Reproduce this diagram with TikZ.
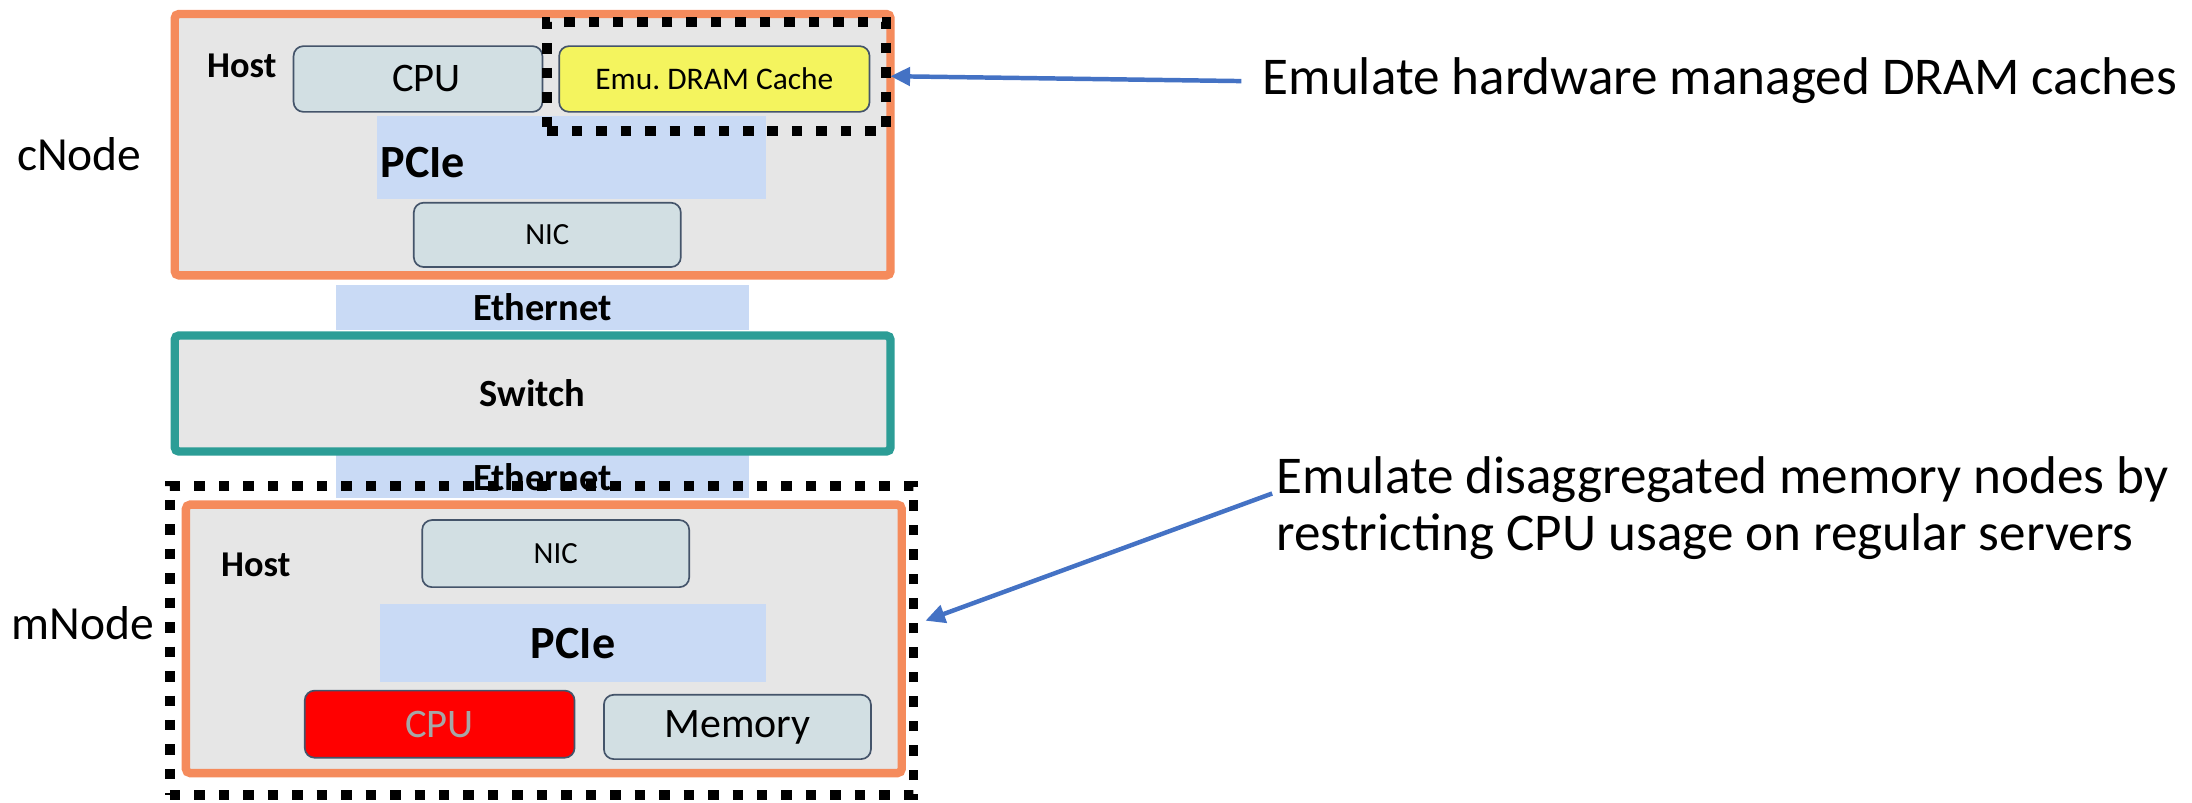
\documentclass[tikz,border=0pt]{standalone}
\usepackage{fontspec}
\setmainfont{Carlito}
\usetikzlibrary{arrows.meta}

\definecolor{frameor}{RGB}{245,139,92}
\definecolor{panel}{RGB}{230,230,230}
\definecolor{teal}{RGB}{44,157,150}
\definecolor{unitfill}{RGB}{210,223,227}
\definecolor{unitline}{RGB}{68,84,106}
\definecolor{emuyellow}{RGB}{244,244,94}
\definecolor{busblue}{RGB}{201,218,245}
\definecolor{arrowblue}{RGB}{68,114,196}
\definecolor{cputext}{RGB}{166,166,166}

\begin{document}
\begin{tikzpicture}[x=1pt,y=-1pt,
  frame/.style={draw=frameor, line width=6pt, fill=panel, rounded corners=3pt, inner sep=0pt},
  swframe/.style={draw=teal, line width=6pt, fill=panel, rounded corners=3pt, inner sep=0pt,
    font=\fontsize{27.5}{33}\selectfont\bfseries},
  unit/.style={draw=unitline, line width=1.2pt, fill=unitfill, rounded corners=7pt, inner sep=0pt},
  bus/.style={fill=busblue, inner sep=0pt},
  dotbox/.style={draw=black, line width=7pt, dash pattern=on 7.5pt off 10pt, inner sep=0pt},
  hostlbl/.style={anchor=west, inner sep=0pt, font=\fontsize{26}{31}\selectfont\bfseries},
  ethlbl/.style={font=\fontsize{27.5}{33}\selectfont\bfseries},
  sidelbl/.style={anchor=west, inner sep=0pt, font=\fontsize{34}{41}\selectfont},
  note/.style={anchor=west, inner sep=0pt, align=left, font=\fontsize{38}{41}\selectfont},
  callout/.style={draw=arrowblue, line width=3.2pt, -{Triangle[length=14pt,width=13pt]}},
  ]
\useasboundingbox (0,0) rectangle (1568,574);

% network links between the nodes
\node[bus, ethlbl, minimum width=296pt, minimum height=32pt] (eth1) at (388,220) {Ethernet};
\node[bus, minimum width=296pt, minimum height=33pt] (eth2) at (388,339.5) {};
\node[ethlbl, inner sep=0pt] (eth2t) at (388,341) {Ethernet};

% switch
\node[swframe, minimum width=512pt, minimum height=83pt] (switch) at (381,281.5) {Switch};

% compute node
\node[frame, minimum width=512pt, minimum height=187pt] (cframe) at (381,103.5) {};
\node[hostlbl] (chost) at (148,47) {Host};
\node[unit, minimum width=178pt, minimum height=47pt, font=\fontsize{29}{35}\selectfont] (ccpu) at (299,56.5) {\hspace*{12pt}CPU};
\node[unit, fill=emuyellow, minimum width=222pt, minimum height=47pt, font=\fontsize{22.5}{27}\selectfont] (emu) at (511,56.5) {Emu.\ DRAM Cache};
\node[bus, minimum width=278pt, minimum height=59pt] (cpcie) at (409,112.5) {};
\node[anchor=west, inner sep=0pt, font=\fontsize{33}{40}\selectfont\bfseries] (cpciet) at (272,116) {PCIe};
\node[unit, minimum width=191pt, minimum height=46pt, font=\fontsize{22}{26}\selectfont] (cnic) at (391.5,168) {NIC};
\node[dotbox, minimum width=242pt, minimum height=78pt] (cdash) at (512.5,54.5) {};

% memory node
\node[frame, minimum width=512pt, minimum height=192pt] (mframe) at (389,457) {};
\node[hostlbl] (mhost) at (158,404) {Host};
\node[unit, minimum width=191pt, minimum height=48pt, font=\fontsize{22}{26}\selectfont] (mnic) at (397.5,396) {NIC};
\node[bus, minimum width=276pt, minimum height=56pt, font=\fontsize{33}{40}\selectfont\bfseries] (mpcie) at (410,460) {PCIe};
\node[unit, fill=red, text=cputext, minimum width=193pt, minimum height=48pt, font=\fontsize{29}{35}\selectfont] (mcpu) at (314.5,518) {CPU};
\node[unit, minimum width=191pt, minimum height=46pt, font=\fontsize{30}{36}\selectfont] (mmem) at (527.5,520) {Memory};
\node[dotbox, minimum width=532pt, minimum height=221pt] (mdash) at (387.5,458) {};

% node names
\node[sidelbl] (cname) at (12,110) {cNode};
\node[sidelbl] (mname) at (8,446) {mNode};

% annotations
\node[note] (note1) at (903,58) {Emulate hardware managed DRAM caches};
\node[note] (note2) at (913,363.5) {Emulate disaggregated memory nodes by\\restricting CPU usage on regular servers};
\coordinate (a1s) at (888,58);
\coordinate (a2s) at (910,353);
\draw[callout] (a1s) -- (cdash.east);
\draw[callout] (a2s) -- ([xshift=5pt,yshift=14pt]mdash.east);
\end{tikzpicture}
\end{document}
